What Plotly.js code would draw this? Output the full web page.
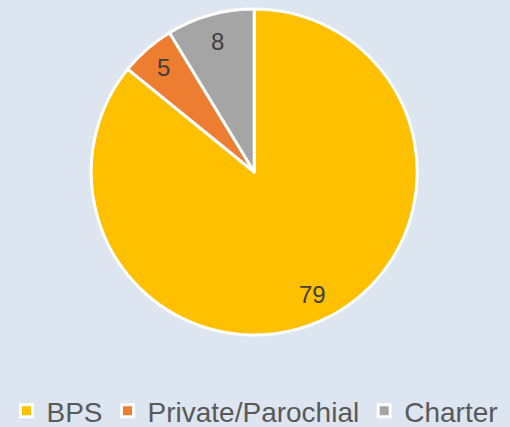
<!DOCTYPE html>
<html>
<head>
<meta charset="utf-8">
<script src="https://cdn.plot.ly/plotly-3.0.1.min.js"></script>
<style>html,body{margin:0;padding:0;background:#DCE5F0;}#chart{width:510px;height:427px;}</style>
</head>
<body>
<div id="chart"></div>
<script>
const categories = ["BPS", "Private/Parochial", "Charter"];
const values = [79, 5, 8];
const colors = ["#FFC000", "#ED7D31", "#A5A5A5"];

const W = 510, H = 427;
const cx = 254.2, cy = 172, R = 163;
const domX = [(cx - R) / W, (cx + R) / W];
const domY = [1 - (cy + R) / H, 1 - (cy - R) / H];

const trace = {
  type: "pie",
  labels: categories,
  values: values,
  sort: false,
  direction: "clockwise",
  rotation: 0,
  marker: {colors: colors, line: {color: "#FFFFFF", width: 3}},
  textinfo: "none",
  hoverinfo: "label+value",
  domain: {x: domX, y: domY}
};

// data labels placed at the middle angle of each slice, near the rim
const total = values.reduce((a, b) => a + b, 0);
const labelFrac = [0.83, 0.85, 0.83];
let cum = 0;
const annotations = values.map((v, i) => {
  const mid = (cum + v / 2) / total * 2 * Math.PI;
  cum += v;
  const r = R * labelFrac[i];
  return {
    xref: "paper", yref: "paper",
    x: (cx + r * Math.sin(mid)) / W,
    y: 1 - (cy - r * Math.cos(mid)) / H,
    text: String(v), showarrow: false,
    xanchor: "center", yanchor: "middle",
    font: {family: "Liberation Sans, Arial, sans-serif", size: 24, color: "#404040"}
  };
});

const layout = {
  width: W, height: H,
  margin: {l: 0, r: 0, t: 0, b: 0, autoexpand: false},
  paper_bgcolor: "#DCE5F0",
  plot_bgcolor: "#DCE5F0",
  showlegend: true,
  annotations: annotations,
  legend: {
    orientation: "h", x: 0.5, xanchor: "center", y: 1 - 411 / H, yanchor: "middle",
    font: {family: "Liberation Sans, Arial, sans-serif", size: 28, color: "#595959"},
    traceorder: "normal"
  }
};

Plotly.newPlot("chart", [trace], layout, {displayModeBar: false, staticPlot: true});
</script>
</body>
</html>
